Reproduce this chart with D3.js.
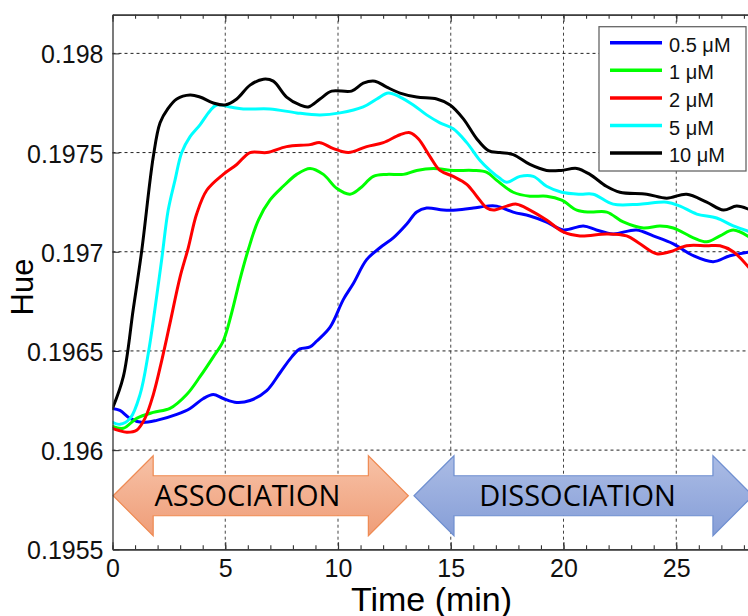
<!DOCTYPE html>
<html>
<head>
<meta charset="utf-8">
<script src="https://cdn.jsdelivr.net/npm/d3@7"></script>
<style>
  html, body { margin: 0; padding: 0; background: #fff; }
  svg { display: block; }
</style>
</head>
<body>
<svg id="chart" width="748" height="616"></svg>
<script>
// Hue response over time for five analyte concentrations: [time (min), hue]
const hue05 = [[0,0.19621],[0.33,0.1962],[0.78,0.19616],[1.29,0.19614],[1.96,0.19615],[2.85,0.19618],[3.44,0.19621],[4.03,0.19626],[4.47,0.19628],[4.91,0.19626],[5.51,0.19624],[6.1,0.19625],[6.84,0.1963],[7.43,0.19639],[7.95,0.19647],[8.31,0.19651],[8.76,0.19652],[9.06,0.19655],[9.65,0.19662],[10.24,0.19676],[10.68,0.19684],[11.27,0.19696],[11.86,0.19702],[12.45,0.19707],[13.05,0.19714],[13.49,0.1972],[13.93,0.19722],[14.67,0.19721],[15.26,0.19721],[16,0.19722],[16.6,0.19723],[17.04,0.19723],[17.77,0.1972],[18.51,0.19718],[19.25,0.19715],[19.99,0.19711],[20.88,0.19713],[21.46,0.19711],[22.2,0.19709],[23.24,0.19711],[23.98,0.19708],[24.87,0.19704],[25.76,0.19698],[26.64,0.19695],[27.38,0.19698],[28.3,0.197]];
const hue1 = [[0,0.19612],[0.48,0.19611],[1.07,0.19616],[1.81,0.19619],[2.55,0.19621],[3.29,0.19628],[3.88,0.19637],[4.47,0.19647],[4.91,0.19655],[5.28,0.19669],[5.65,0.19686],[6.02,0.19701],[6.47,0.19716],[6.98,0.19726],[7.57,0.19733],[8.17,0.19739],[8.76,0.19742],[9.35,0.19739],[9.94,0.19732],[10.53,0.19729],[10.98,0.19732],[11.57,0.19738],[12.16,0.19739],[12.9,0.19739],[13.49,0.19741],[14.23,0.19742],[15.11,0.19741],[16,0.19741],[16.6,0.1974],[17.04,0.19736],[17.77,0.1973],[18.51,0.19728],[19.25,0.19728],[19.92,0.19726],[20.59,0.19721],[21.17,0.1972],[21.92,0.1972],[22.65,0.19715],[23.54,0.19712],[24.28,0.19713],[24.87,0.19712],[25.76,0.19707],[26.35,0.19705],[26.94,0.19708],[27.53,0.19711],[28.3,0.19707]];
const hue2 = [[0,0.19611],[0.26,0.1961],[0.63,0.19609],[1.07,0.1961],[1.44,0.19616],[1.81,0.19628],[2.18,0.19645],[2.55,0.19664],[2.99,0.19687],[3.36,0.19702],[3.73,0.19719],[4.18,0.19731],[4.91,0.19739],[5.51,0.19744],[6.1,0.1975],[6.84,0.1975],[7.72,0.19753],[8.76,0.19754],[9.2,0.19755],[9.8,0.19752],[10.46,0.1975],[11.27,0.19753],[12.01,0.19755],[12.75,0.19759],[13.19,0.1976],[13.56,0.19757],[14.08,0.19748],[14.52,0.19741],[15.11,0.19738],[15.71,0.19734],[16.15,0.19728],[16.6,0.19722],[16.89,0.19721],[17.48,0.19723],[17.92,0.19724],[18.51,0.19721],[19.25,0.19716],[19.99,0.1971],[20.73,0.19708],[21.92,0.19709],[22.8,0.19708],[23.39,0.19704],[24.13,0.19699],[24.72,0.197],[25.46,0.19703],[26.35,0.19703],[26.94,0.19703],[27.53,0.197],[28.3,0.19691]];
const hue5 = [[0,0.19614],[0.33,0.19613],[0.78,0.19616],[1.22,0.19628],[1.59,0.19649],[1.88,0.19671],[2.18,0.19696],[2.47,0.19721],[2.77,0.19736],[3.07,0.1975],[3.44,0.19758],[3.88,0.19764],[4.32,0.19771],[4.62,0.19774],[5.21,0.19773],[5.8,0.19772],[6.98,0.19772],[8.17,0.1977],[9.2,0.19769],[10.09,0.1977],[11.12,0.19773],[11.72,0.19777],[12.23,0.1978],[12.75,0.19778],[13.34,0.19774],[13.93,0.19769],[14.52,0.19765],[15.11,0.19762],[15.71,0.19755],[16.3,0.19746],[16.74,0.19741],[17.18,0.19737],[17.48,0.19735],[18.07,0.19738],[18.66,0.19738],[19.25,0.19733],[19.92,0.1973],[20.73,0.19729],[21.32,0.19729],[22.2,0.19724],[23.39,0.19724],[24.58,0.19725],[25.17,0.19723],[25.91,0.19719],[26.79,0.19717],[27.53,0.19713],[28.3,0.1971]];
const hue10 = [[0,0.19621],[0.48,0.19637],[0.92,0.19671],[1.29,0.197],[1.81,0.19748],[2.11,0.19765],[2.45,0.19772],[2.85,0.19777],[3.44,0.19779],[3.88,0.19778],[4.47,0.19775],[5,0.19774],[5.51,0.19777],[6.1,0.19784],[6.69,0.19787],[7.13,0.19786],[7.72,0.19778],[8.31,0.19774],[8.68,0.19773],[9.2,0.19777],[9.72,0.19781],[10.6,0.19781],[11.12,0.19785],[11.64,0.19786],[12.16,0.19783],[12.75,0.1978],[13.49,0.19778],[14.38,0.19777],[14.97,0.19774],[15.56,0.19767],[16.15,0.19757],[16.67,0.19751],[17.18,0.1975],[17.77,0.19749],[18.51,0.19744],[19.25,0.19741],[19.9,0.19741],[20.59,0.19742],[21.17,0.19739],[21.9,0.19733],[22.5,0.1973],[23.69,0.19729],[24.58,0.19727],[25.46,0.19729],[26.35,0.19725],[27.09,0.19721],[27.68,0.19723],[28.3,0.19721]];

const seriesNames = ["0.5 μM", "1 μM", "2 μM", "5 μM", "10 μM"];
const seriesValues = [hue05, hue1, hue2, hue5, hue10];
const seriesColors = ["#0000ff", "#00ff00", "#ff0000", "#00ffff", "#000000"];

const xTicks = [0, 5, 10, 15, 20, 25];
const xMinorTicks = d3.range(0, 29, 1);
const yTicks = [0.1955, 0.196, 0.1965, 0.197, 0.1975, 0.198];
const yTickLabels = ["0.1955", "0.196", "0.1965", "0.197", "0.1975", "0.198"];

// Experiment phases drawn as double-headed arrows below the curves
const phaseNames = ["ASSOCIATION", "DISSOCIATION"];
const phaseStart = [0.03, 13.37];
const phaseEnd = [13.12, 28.4];
const phaseLabelAt = [5.98, 20.62];
const phaseLevel = 0.19577;

const svg = d3.select("#chart");
const plotLeft = 112.5, plotRight = 750, plotTop = 14.7, plotBottom = 549.3;

const x = d3.scaleLinear().domain([0, 28.27]).range([plotLeft, plotRight]);
const y = d3.scaleLinear().domain([0.1955, 0.198195]).range([plotBottom, plotTop]);

const defs = svg.append("defs");
// clip for the plotting region
defs.append("clipPath").attr("id", "plotClip")
  .append("rect").attr("x", plotLeft).attr("y", plotTop)
  .attr("width", plotRight - plotLeft).attr("height", plotBottom - plotTop);

// gradients for the phase arrows
const gradA = defs.append("linearGradient").attr("id", "gradAssoc").attr("x1", 0).attr("y1", 0).attr("x2", 0).attr("y2", 1);
gradA.append("stop").attr("offset", "0%").attr("stop-color", "#f7c2a7");
gradA.append("stop").attr("offset", "100%").attr("stop-color", "#ef9d78");
const gradD = defs.append("linearGradient").attr("id", "gradDissoc").attr("x1", 0).attr("y1", 0).attr("x2", 0).attr("y2", 1);
gradD.append("stop").attr("offset", "0%").attr("stop-color", "#abbce5");
gradD.append("stop").attr("offset", "100%").attr("stop-color", "#869ed7");
const phaseFill = ["url(#gradAssoc)", "url(#gradDissoc)"];
const phaseStroke = ["#ef8a52", "#6f8fd0"];

// grid lines
const grid = svg.append("g");
grid.selectAll("line.gx").data(xTicks.filter(d => d > 0)).join("line")
  .attr("class", "gx")
  .attr("x1", d => x(d)).attr("x2", d => x(d))
  .attr("y1", plotTop).attr("y2", plotBottom)
  .attr("stroke", "#444").attr("stroke-width", 1).attr("stroke-dasharray", "3,3");
grid.selectAll("line.gy").data(yTicks.filter(d => d > 0.1955)).join("line")
  .attr("class", "gy")
  .attr("x1", plotLeft).attr("x2", plotRight)
  .attr("y1", d => y(d)).attr("y2", d => y(d))
  .attr("stroke", "#222").attr("stroke-width", 1).attr("stroke-dasharray", "3,3");

// phase arrows
function arrowPath(x0, x1, cy) {
  const hl = 40, hh = 40, bh = 20;
  const pts = [[x0, cy], [x0 + hl, cy - hh], [x0 + hl, cy - bh], [x1 - hl, cy - bh], [x1 - hl, cy - hh],
               [x1, cy], [x1 - hl, cy + hh], [x1 - hl, cy + bh], [x0 + hl, cy + bh], [x0 + hl, cy + hh]];
  return d3.line()(pts) + "Z";
}
const arrows = svg.append("g");
phaseNames.forEach((name, i) => {
  arrows.append("path")
    .attr("d", arrowPath(x(phaseStart[i]), x(phaseEnd[i]), y(phaseLevel)))
    .attr("fill", phaseFill[i]).attr("stroke", phaseStroke[i]).attr("stroke-width", 1.2);
  arrows.append("text")
    .attr("x", x(phaseLabelAt[i])).attr("y", y(phaseLevel) + 10)
    .attr("text-anchor", "middle")
    .attr("font-family", "'Open Sans', sans-serif").attr("font-size", 29)
    .attr("fill", "#000").text(name);
});

// curves
const line = d3.line().x(d => x(d[0])).y(d => y(d[1])).curve(d3.curveCatmullRom.alpha(0.5));
svg.append("g").attr("clip-path", "url(#plotClip)")
  .selectAll("path").data(seriesValues).join("path")
  .attr("d", line).attr("fill", "none")
  .attr("stroke", (d, i) => seriesColors[i]).attr("stroke-width", 3)
  .attr("stroke-linejoin", "round").attr("stroke-linecap", "round");

// axes
const axisColor = "#333";
function styleAxis(g) {
  g.select(".domain").attr("stroke", axisColor).attr("stroke-width", 1.3);
  g.selectAll(".tick line").attr("stroke", axisColor).attr("stroke-width", 1.1);
  g.selectAll("text").attr("font-family", "'Liberation Sans', Arial, sans-serif").attr("font-size", 25).attr("fill", "#111");
}
svg.append("g").attr("transform", `translate(0,${plotBottom})`)
  .call(d3.axisBottom(x).tickValues(xMinorTicks).tickSize(-4).tickSizeOuter(0).tickFormat(""))
  .call(styleAxis);
svg.append("g").attr("transform", `translate(0,${plotBottom})`)
  .call(d3.axisBottom(x).tickValues(xTicks).tickSize(-7).tickSizeOuter(0).tickPadding(10).tickFormat(d3.format("d")))
  .call(styleAxis);
svg.append("g").attr("transform", `translate(0,${plotTop})`)
  .call(d3.axisTop(x).tickValues(xMinorTicks).tickSize(-4).tickSizeOuter(0).tickFormat(""))
  .call(styleAxis);
svg.append("g").attr("transform", `translate(0,${plotTop})`)
  .call(d3.axisTop(x).tickValues(xTicks).tickSize(-7).tickSizeOuter(0).tickFormat(""))
  .call(styleAxis);
const yAxis = svg.append("g").attr("transform", `translate(${plotLeft},0)`)
  .call(d3.axisLeft(y).tickValues(yTicks).tickSize(-7).tickSizeOuter(0).tickPadding(9)
    .tickFormat((d, i) => yTickLabels[i]))
  .call(styleAxis);
yAxis.selectAll("text").attr("dy", "0.38em");

// axis titles
svg.append("text")
  .attr("transform", "translate(33,287) rotate(-90)")
  .attr("text-anchor", "middle")
  .attr("font-family", "'Liberation Sans', Arial, sans-serif").attr("font-size", 31).attr("fill", "#000")
  .text("Hue");
svg.append("text")
  .attr("x", 431.5).attr("y", 610.5)
  .attr("text-anchor", "middle")
  .attr("font-family", "'Liberation Sans', Arial, sans-serif").attr("font-size", 34).attr("fill", "#000")
  .text("Time (min)");

// legend
const legend = svg.append("g").attr("transform", "translate(599,26.7)");
legend.append("rect").attr("width", 147).attr("height", 144.3)
  .attr("fill", "#fff").attr("stroke", "#666").attr("stroke-width", 1.3);
const rows = legend.selectAll("g.row").data(seriesNames).join("g")
  .attr("class", "row")
  .attr("transform", (d, i) => `translate(0,${16 + i * 27.6})`);
rows.append("line").attr("x1", 11).attr("x2", 63).attr("y1", 0).attr("y2", 0)
  .attr("stroke", (d, i) => seriesColors[i]).attr("stroke-width", 3.5);
rows.append("text").attr("x", 70).attr("y", 9)
  .attr("font-family", "'Liberation Sans', Arial, sans-serif").attr("font-size", 20).attr("fill", "#111")
  .text(d => d);
</script>
</body>
</html>
